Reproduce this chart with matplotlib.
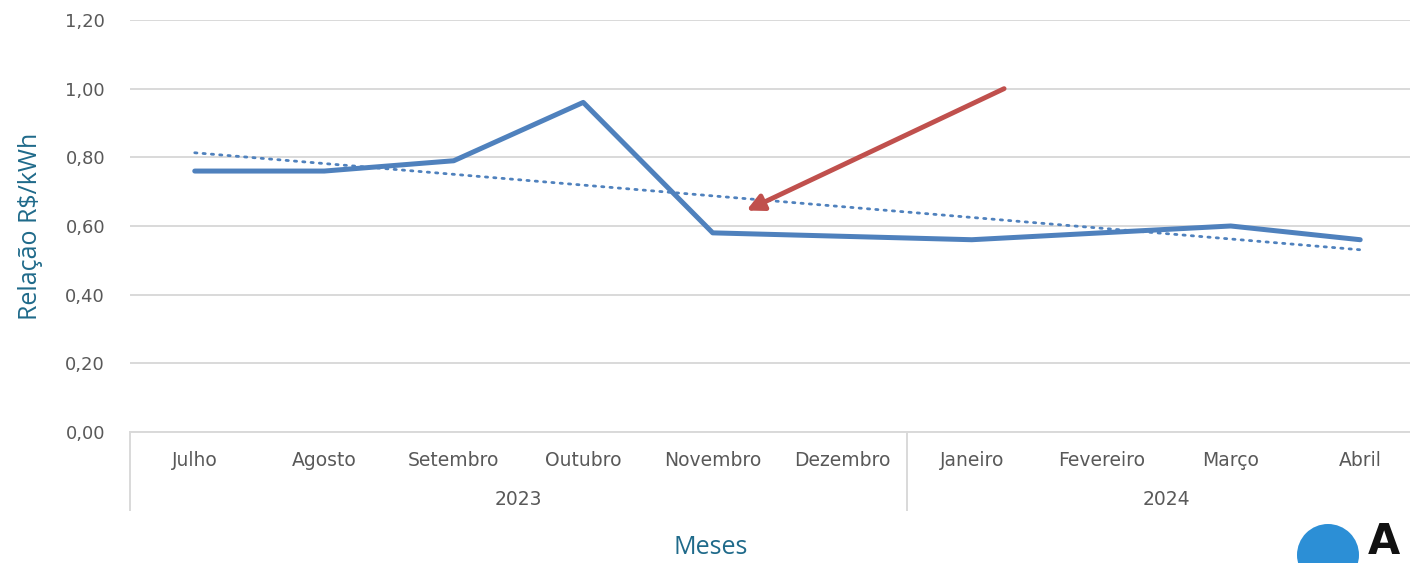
import numpy as np
import matplotlib
matplotlib.use("Agg")
import matplotlib.pyplot as plt
from matplotlib.lines import Line2D
from matplotlib.patches import Ellipse

# Data
meses = ["Julho", "Agosto", "Setembro", "Outubro", "Novembro", "Dezembro",
         "Janeiro", "Fevereiro", "Março", "Abril"]
anos = ["2023", "2024"]
meses_por_ano = [6, 4]
relacao = [0.76, 0.76, 0.79, 0.96, 0.58, 0.57, 0.56, 0.58, 0.60, 0.56]

plt.rcParams['font.family'] = ['DejaVu Sans']

fig = plt.figure(figsize=(14.10, 5.63), dpi=100)
ax = fig.add_axes([0.0922, 0.2327, 0.9184, 0.7318])

x = np.arange(len(meses))
blue = '#4F81BD'

ax.plot(x, relacao, color=blue, linewidth=3.6, solid_capstyle='round', zorder=3)

# linear trend line (like Excel)
coef = np.polyfit(x, relacao, 1)
ax.plot(x, np.polyval(coef, x), color=blue, linewidth=2.0,
        linestyle=(0, (0.8, 2.2)), dash_capstyle='round', zorder=3)

ax.set_xlim(-0.5, len(meses) - 0.5)
ax.set_ylim(0, 1.2)
ax.set_yticks(np.arange(0, 1.21, 0.2))
ax.set_yticklabels([f"{v:.2f}".replace('.', ',') for v in np.arange(0, 1.21, 0.2)],
                   fontsize=13, color='#595959')
ax.tick_params(axis='y', length=0, pad=18)
ax.grid(axis='y', color='#D9D9D9', linewidth=1.4)
ax.set_axisbelow(True)
for s in ['top', 'right', 'left']:
    ax.spines[s].set_visible(False)
ax.spines['bottom'].set_color('#D9D9D9')
ax.spines['bottom'].set_linewidth(1.4)

ax.set_xticks(x)
ax.set_xticklabels(meses, fontsize=13.5, color='#595959')
ax.tick_params(axis='x', length=0, pad=14)

# year level of the category axis
trans = ax.get_xaxis_transform()
start = 0
bounds = [-0.5]
for ano, n in zip(anos, meses_por_ano):
    centro = start + (n - 1) / 2
    ax.text(centro, -0.165, ano, transform=trans, ha='center', va='center',
            fontsize=13.5, color='#595959')
    start += n
    bounds.append(start - 0.5)
for b in bounds:
    ax.add_line(Line2D([b, b], [0, -0.19], transform=trans, color='#D9D9D9',
                       linewidth=1.4, clip_on=False))

ax.set_ylabel("Relação R$/kWh", fontsize=18, color='#1F6A8A', labelpad=16,
              family='Open Sans')
fig.text(0.504, 0.005, "Meses", ha='center', va='bottom', fontsize=18,
         color='#1F6A8A', family='Open Sans')

# red arrow
ax.annotate("", xy=(4.26, 0.645), xytext=(6.25, 1.0),
            arrowprops=dict(arrowstyle='-|>,head_length=1.0,head_width=0.5',
                            color='#C0504D', lw=3.5, shrinkA=0, shrinkB=0), zorder=4)

# logo approximation in the bottom right corner
fig.patches.append(Ellipse((1328 / 1410, 8 / 563), 62 / 1410, 62 / 563,
                           transform=fig.transFigure,
                           facecolor='#2C8FD6', edgecolor='none'))
fig.text(1368 / 1410, 0.0, "A", ha='left', va='bottom', fontsize=30,
         fontweight='bold', color='#111111')

fig.savefig('out.png', dpi=100, facecolor='white')
